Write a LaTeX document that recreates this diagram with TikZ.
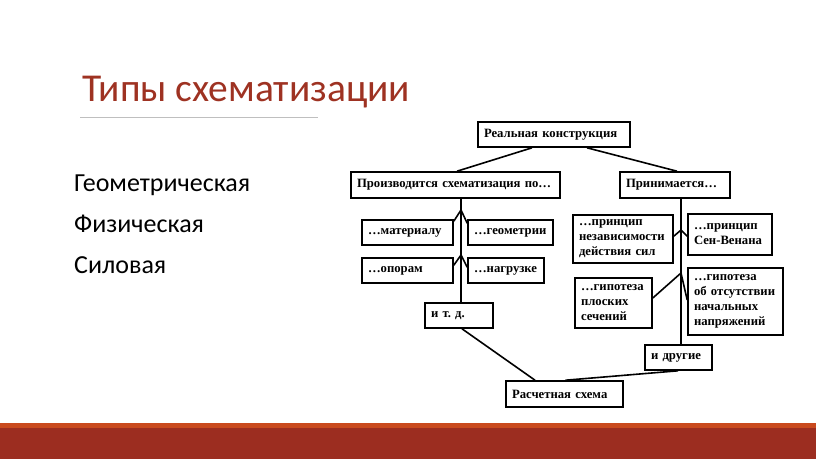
\documentclass[tikz,border=0pt]{standalone}
\usepackage{fontspec}
\setmainfont{Carlito}
\newfontfamily\schemefont{Liberation Serif}
\usepackage{tikz}
\frenchspacing

\definecolor{slidered}{HTML}{9C2D20}
\definecolor{stripe}{HTML}{C94A1E}
\definecolor{titlered}{HTML}{9E3222}
\definecolor{rulegray}{HTML}{BFBFBF}

\tikzset{
	box/.style={draw,line width=1.6pt,inner xsep=6pt,inner ysep=0pt,align=left,
		font=\schemefont\bfseries\fontsize{12.7}{15}\selectfont},
	link/.style={line width=1.6pt},
	item/.style={anchor=base west,inner sep=0,font=\fontsize{26}{30}\selectfont}
}

\begin{document}
\begin{tikzpicture}
	[x=1pt,y=-1pt]
	\useasboundingbox (0,0) rectangle (816,459);
	\fill[slidered] (0,423) rectangle (816,459);
	\fill[stripe] (0,423) rectangle (816,428);
	
	\node[anchor=base west,inner sep=0,text=titlered,font=\fontsize{39.5}{44}\selectfont] (title) at (82,101) {Типы схематизации};
	\draw[rulegray,line width=0.8pt] (80,117) -- (318,117);
	\node[item] (geo) at (74,191) {Геометрическая};
	\node[item] (phys) at (74,232) {Физическая};
	\node[item] (force) at (74,273) {Силовая};
	
	\node[box,text width=140pt,minimum height=25pt] (real) at (554,134.5) {Реальная конструкция};
	\node[box,text width=197pt,minimum height=26pt] (proc) at (455.5,185) {Производится схематизация по…};
	\node[box,text width=98pt,minimum height=26pt] (prin) at (675,185) {Принимается…};
	
	\node[box,text width=79pt,minimum height=25pt] (mat) at (407.5,232.5) {…материалу};
	\node[box,text width=73pt,minimum height=25pt] (geom) at (510.5,232.5) {…геометрии};
	\node[box,text width=79pt,minimum height=25pt] (opor) at (407.5,270.5) {…опорам};
	\node[box,text width=64pt,minimum height=25pt] (nagr) at (506,270.5) {…нагрузке};
	\node[box,text width=56pt,minimum height=25pt] (itd) at (459,315.5) {и т. д.};
	
	\node[box,text width=88pt,minimum height=48pt] (nez) at (623,239) {…принцип\\независимости\\действия сил};
	\node[box,text width=72pt,minimum height=41pt] (sen) at (730,234.5) {…принцип\\Сен-Венана};
	\node[box,text width=65pt,minimum height=50pt] (plosk) at (613.5,303) {…гипотеза\\плоских\\сечений};
	\node[box,text width=83pt,minimum height=67pt] (otsut) at (735.5,301.5) {…гипотеза\\об отсутствии\\начальных\\напряжений};
	\node[box,text width=55pt,minimum height=25pt] (drug) at (678.5,357.5) {и другие};
	
	\node[box,text width=105pt,minimum height=26pt] (rasch) at (564.5,394) {Расчетная схема};
	
	% branch points on the two trunks
	\coordinate (a1) at (461,210);
	\coordinate (a2) at (461,255);
	\coordinate (b1) at (681,230);
	\coordinate (b2) at (681,273);
	
	\draw[link] ([xshift=-22pt]real.south) -- ([xshift=1.5pt]proc.north);
	\draw[link] ([xshift=33pt]real.south) -- ([xshift=2pt]prin.north);
	\draw[link] ([xshift=5.5pt]proc.south) -- ([xshift=2pt]itd.north);
	\draw[link] ([xshift=6pt]prin.south) -- ([xshift=2.5pt]drug.north);
	\draw[link] ([xshift=3pt]itd.south) -- ([xshift=-29.5pt]rasch.north);
	\draw[link] ([xshift=-0.5pt]drug.south) -- ([xshift=1pt]rasch.north);
	
	\foreach \from/\to/\dy in {a1/mat/-2,a2/opor/-8}
	\draw[link] (\from) -- ([yshift=\dy pt]\to.north east);
	\foreach \from/\to/\dy in {a1/geom/-4,a2/nagr/-10}
	\draw[link] (\from) -- ([yshift=\dy pt]\to.north west);
	\draw[link] (b1) -- ([yshift=-22pt]nez.north east);
	\draw[link] (b1) -- ([yshift=-23pt]sen.north west);
	\draw[link] (b2) -- ([yshift=5pt]plosk.east);
	\draw[link] (b2) -- ([yshift=1.5pt]otsut.west);
\end{tikzpicture}
\end{document}
